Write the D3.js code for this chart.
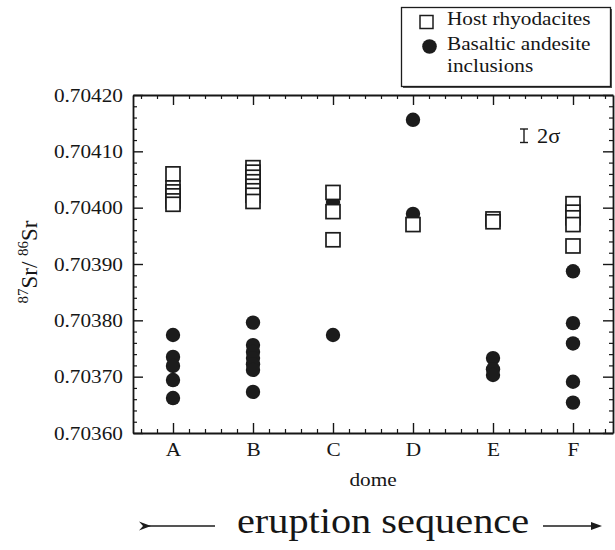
<!DOCTYPE html>
<html><head><meta charset="utf-8">
<script src="https://cdn.jsdelivr.net/npm/d3@7"></script>
<style>
body{margin:0;background:#fff}
svg{display:block}
text{font-family:"Liberation Serif","Times New Roman",serif;fill:#161616}
</style>
</head><body>
<svg id="chart" width="615" height="550"></svg>
<script>
// ---------- data ----------
const domes = ["A","B","C","D","E","F"];
const hostDome = ["A","A","A","A","A","A","B","B","B","B","B","B","B","B","C","C","C","D","E","E","F","F","F","F","F"];
const hostSr   = [0.704060,0.704035,0.704028,0.704021,0.704012,0.704006,
                  0.704071,0.704063,0.704054,0.704046,0.704038,0.704030,0.704022,0.704011,
                  0.704027,0.703993,0.703943,
                  0.703970,
                  0.703980,0.703975,
                  0.704007,0.703992,0.703982,0.703970,0.703932];
const inclDome = ["A","A","A","A","A","B","B","B","B","B","B","B","C","C","D","D","E","E","E","F","F","F","F","F"];
const inclSr   = [0.703774,0.703735,0.703719,0.703694,0.703662,
                  0.703796,0.703756,0.703744,0.703733,0.703722,0.703712,0.703673,
                  0.704010,0.703774,
                  0.704156,0.703989,
                  0.703733,0.703713,0.703703,
                  0.703887,0.703795,0.703759,0.703691,0.703654];
const yTicks = [0.7036,0.7037,0.7038,0.7039,0.7040,0.7041,0.7042];
const legendLabels = ["Host rhyodacites","Basaltic andesite","inclusions"];
const xTitle = "dome";
const sequenceLabel = "eruption sequence";
const sigmaLabel = "2σ";

// ---------- layout ----------
const SX = 1.12; // horizontal stretch of the scanned type
const L = 133, R = 613, T = 95, B = 433;
const svg = d3.select("#chart");
const x = d3.scalePoint().domain(domes).range([L, R]).padding(0.5);
const xl = d3.scaleLinear().domain([-0.5, domes.length - 0.5]).range([L, R]);
const y = d3.scaleLinear().domain([0.7036, 0.7042]).range([B, T]);

const minorY = d3.range(0, 31).filter(i => i % 5 !== 0).map(i => 0.7036 + i * 0.00002);
const minorX = [];
domes.forEach((d, i) => [-2, -1, 1, 2].forEach(k => minorX.push(i + k * 0.2)));

function styleAxis(g) {
  g.select(".domain").attr("stroke", "#161616").attr("stroke-width", 1.8);
  g.selectAll(".tick line").attr("stroke", "#161616").attr("stroke-width", 1.4);
}
function styleMinor(g) {
  g.select(".domain").remove();
  g.selectAll(".tick line").attr("stroke", "#161616").attr("stroke-width", 1.2);
  g.selectAll(".tick text").remove();
}

// left axis
const gl = svg.append("g").attr("transform", `translate(${L},0)`)
  .call(d3.axisLeft(y).tickValues(yTicks).tickSize(-10).tickSizeOuter(0).tickPadding(10).tickFormat(d3.format(".5f")));
styleAxis(gl);
gl.selectAll(".tick text").attr("font-size", 19).attr("font-family", "Liberation Serif, serif")
  .attr("fill", "#161616").attr("x", -10 / SX).attr("transform", `scale(${SX},1)`);
svg.append("g").attr("transform", `translate(${L},0)`)
  .call(d3.axisLeft(y).tickValues(minorY).tickSize(-4).tickSizeOuter(0)).call(styleMinor);

// right axis
const gr = svg.append("g").attr("transform", `translate(${R},0)`)
  .call(d3.axisRight(y).tickValues(yTicks).tickSize(-10).tickSizeOuter(0).tickFormat(""));
styleAxis(gr);
svg.append("g").attr("transform", `translate(${R},0)`)
  .call(d3.axisRight(y).tickValues(minorY).tickSize(-4).tickSizeOuter(0)).call(styleMinor);

// bottom axis
const gb = svg.append("g").attr("transform", `translate(0,${B})`)
  .call(d3.axisBottom(x).tickSize(-10).tickSizeOuter(0).tickPadding(10));
styleAxis(gb);
gb.selectAll(".tick text").attr("font-size", 19).attr("font-family", "Liberation Serif, serif")
  .attr("fill", "#161616").attr("transform", `scale(${SX},1)`);
svg.append("g").attr("transform", `translate(0,${B})`)
  .call(d3.axisBottom(xl).tickValues(minorX).tickSize(-4).tickSizeOuter(0)).call(styleMinor);

// top axis
const gt = svg.append("g").attr("transform", `translate(0,${T})`)
  .call(d3.axisTop(x).tickSize(-10).tickSizeOuter(0).tickFormat(""));
styleAxis(gt);
svg.append("g").attr("transform", `translate(0,${T})`)
  .call(d3.axisTop(xl).tickValues(minorX).tickSize(-4).tickSizeOuter(0)).call(styleMinor);

// ---------- marks ----------
const inclData = inclSr.map((v, i) => ({dome: inclDome[i], v}));
const hostData = hostSr.map((v, i) => ({dome: hostDome[i], v}));
const SQ = 14, RAD = 7.2;

svg.append("g").selectAll("circle").data(inclData).join("circle")
  .attr("cx", d => x(d.dome)).attr("cy", d => y(d.v)).attr("r", RAD)
  .attr("fill", "#1c1c1c");

svg.append("g").selectAll("rect").data(hostData).join("rect")
  .attr("x", d => x(d.dome) - SQ / 2).attr("y", d => y(d.v) - SQ / 2)
  .attr("width", SQ).attr("height", SQ)
  .attr("fill", "#fff").attr("stroke", "#1c1c1c").attr("stroke-width", 1.7);

// 2 sigma error bar
const sg = svg.append("g").attr("stroke", "#1c1c1c").attr("stroke-width", 1.4);
sg.append("line").attr("x1", 524).attr("x2", 524).attr("y1", 129).attr("y2", 142.5);
sg.append("line").attr("x1", 520).attr("x2", 528).attr("y1", 129).attr("y2", 129);
sg.append("line").attr("x1", 520).attr("x2", 528).attr("y1", 142.5).attr("y2", 142.5);
svg.append("text").attr("transform", `translate(537,143) scale(${SX},1)`)
  .attr("font-size", 20).text(sigmaLabel);

// ---------- legend ----------
const lg = svg.append("g");
lg.append("rect").attr("x", 403).attr("y", 9).attr("width", 209).attr("height", 79).attr("fill", "#555");
lg.append("rect").attr("x", 401.5).attr("y", 7.5).attr("width", 209).attr("height", 79)
  .attr("fill", "#fff").attr("stroke", "#1c1c1c").attr("stroke-width", 1.3);
lg.append("rect").attr("x", 420).attr("y", 15.5).attr("width", 13).attr("height", 13)
  .attr("fill", "#fff").attr("stroke", "#1c1c1c").attr("stroke-width", 1.5);
lg.append("circle").attr("cx", 429.5).attr("cy", 46.5).attr("r", 7.3).attr("fill", "#1c1c1c");
const lgY = [25, 50, 72];
legendLabels.forEach((t, i) => {
  lg.append("text").attr("transform", `translate(447,${lgY[i]}) scale(${SX},1)`)
    .attr("font-size", 19).text(t);
});

// ---------- titles ----------
svg.append("text").attr("transform", `translate(${(L + R) / 2},486) scale(${SX},1)`)
  .attr("text-anchor", "middle").attr("font-size", 19).text(xTitle);

const yt = svg.append("text").attr("transform", "translate(37,262) rotate(-90)")
  .attr("text-anchor", "middle").attr("font-size", 23);
yt.append("tspan").attr("font-size", 15).attr("dy", -9).text("87");
yt.append("tspan").attr("dy", 9).text("Sr/ ");
yt.append("tspan").attr("font-size", 15).attr("dy", -9).text("86");
yt.append("tspan").attr("dy", 9).text("Sr");

svg.append("text").attr("transform", `translate(383,533) scale(${SX},1)`)
  .attr("text-anchor", "middle").attr("font-size", 36).text(sequenceLabel);

// arrows
const ag = svg.append("g");
ag.append("line").attr("x1", 146).attr("x2", 215).attr("y1", 526).attr("y2", 526)
  .attr("stroke", "#1c1c1c").attr("stroke-width", 1.6);
ag.append("path").attr("d", "M139,521.5 L151,526 L139,530.5 L143,526 Z").attr("fill", "#1c1c1c");
ag.append("line").attr("x1", 543).attr("x2", 594).attr("y1", 526).attr("y2", 526)
  .attr("stroke", "#1c1c1c").attr("stroke-width", 1.6);
ag.append("path").attr("d", "M591,522 L602,526 L591,530 Z").attr("fill", "#1c1c1c");
</script>
</body></html>
